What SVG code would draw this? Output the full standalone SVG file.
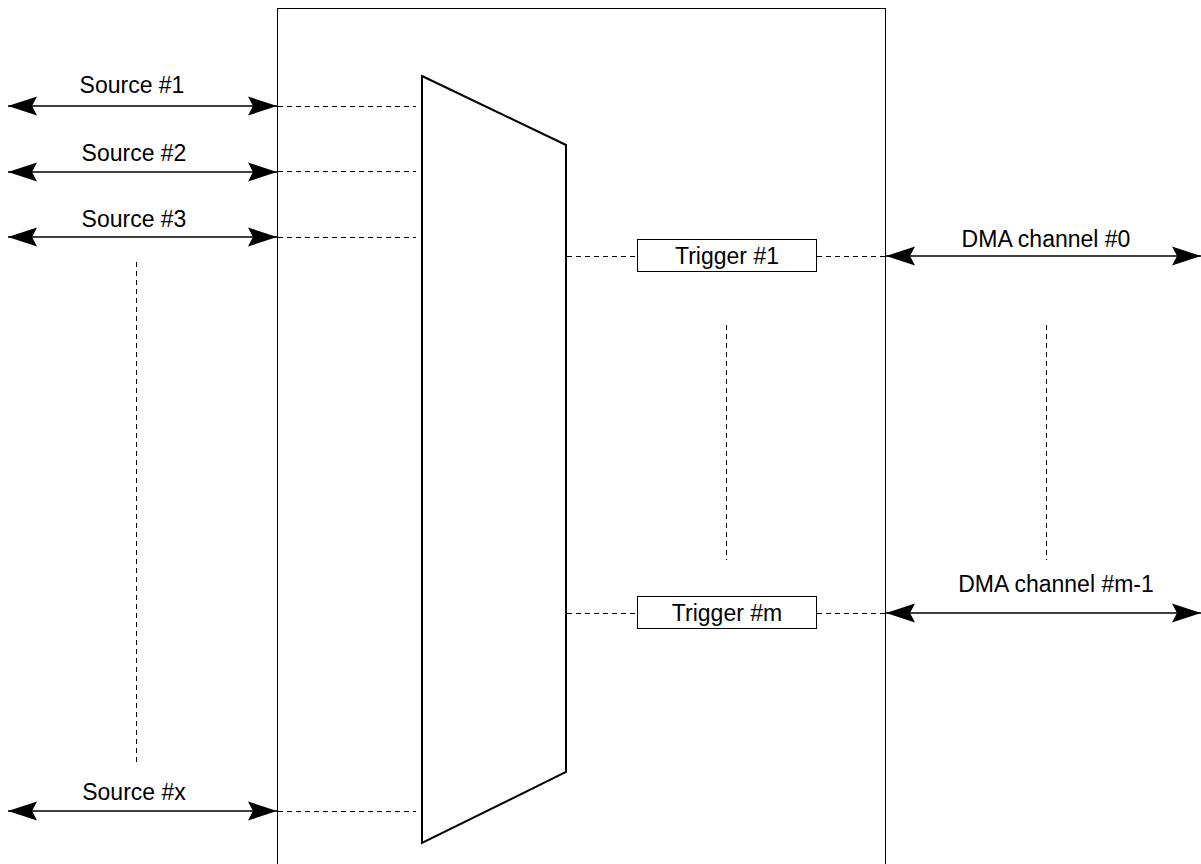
<svg xmlns="http://www.w3.org/2000/svg" width="1201" height="864" viewBox="0 0 1201 864">
<style>
.lbl{font-family:"Liberation Sans",Arial,sans-serif;font-size:23px;fill:#000;text-anchor:middle}
.arr{stroke:#000;stroke-width:1.5;fill:none;marker-start:url(#ah);marker-end:url(#ah)}
.dash{stroke:#000;stroke-width:1;stroke-dasharray:5,4;fill:none}
.box{fill:#fff;stroke:#000;stroke-width:1}
</style>
<defs>
<marker id="ah" markerUnits="userSpaceOnUse" markerWidth="32" markerHeight="22" refX="29" refY="10" orient="auto-start-reverse" overflow="visible">
<path d="M29,10 L0,0.5 L5,10 L0,19.5 Z" fill="#000"/>
</marker>
</defs>
<rect width="1201" height="864" fill="#fff"/>
<g id="block">
<rect x="277.5" y="8.5" width="608" height="900" fill="none" stroke="#000" stroke-width="1"/>
</g>
<g id="mux">
<polygon points="422,76 566,145 566,772 422,843" fill="#fff" stroke="#000" stroke-width="2"/>
</g>
<g id="trigger1">
<rect class="box" x="637.5" y="239.5" width="179" height="32"/>
<text class="lbl" x="727" y="264">Trigger #1</text>
</g>
<g id="triggerm">
<rect class="box" x="637.5" y="596.5" width="179" height="32"/>
<text class="lbl" x="727" y="621">Trigger #m</text>
</g>
<g id="labels">
<text class="lbl" x="132" y="93">Source #1</text>
<text class="lbl" x="134" y="161">Source #2</text>
<text class="lbl" x="134" y="227">Source #3</text>
<text class="lbl" x="134" y="800">Source #x</text>
<text class="lbl" x="1046" y="247">DMA channel #0</text>
<text class="lbl" x="1056" y="592">DMA channel #m-1</text>
</g>
<g id="connectors">
<line class="arr" x1="8" y1="106" x2="277" y2="106"/>
<line class="arr" x1="8" y1="172" x2="277" y2="172"/>
<line class="arr" x1="8" y1="237" x2="277" y2="237"/>
<line class="arr" x1="8" y1="811" x2="277" y2="811"/>
<line class="arr" x1="886" y1="256" x2="1201" y2="256"/>
<line class="arr" x1="886" y1="613" x2="1201" y2="613"/>
<line class="dash" x1="278" y1="106.5" x2="416" y2="106.5"/>
<line class="dash" x1="278" y1="171.5" x2="416" y2="171.5"/>
<line class="dash" x1="278" y1="237.5" x2="416" y2="237.5"/>
<line class="dash" x1="278" y1="811.5" x2="416" y2="811.5"/>
<line class="dash" x1="567" y1="256.5" x2="637" y2="256.5"/>
<line class="dash" x1="817" y1="256.5" x2="885" y2="256.5"/>
<line class="dash" x1="567" y1="613.5" x2="637" y2="613.5"/>
<line class="dash" x1="817" y1="613.5" x2="885" y2="613.5"/>
<line class="dash" x1="136.5" y1="262" x2="136.5" y2="765"/>
<line class="dash" x1="726.5" y1="325" x2="726.5" y2="560"/>
<line class="dash" x1="1046.5" y1="325" x2="1046.5" y2="560"/>
</g>
</svg>
